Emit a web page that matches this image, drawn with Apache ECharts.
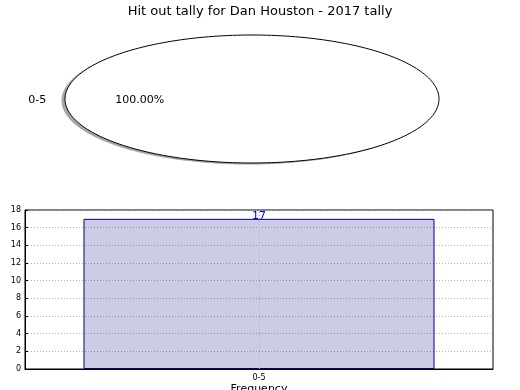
<!DOCTYPE html>
<html>
<head>
<meta charset="utf-8">
<script src="https://cdn.jsdelivr.net/npm/echarts@6/dist/echarts.min.js"></script>
<style>html,body{margin:0;padding:0;background:#fff;}#c{width:520px;height:390px;}</style>
</head>
<body>
<div id="c"></div>
<script>
const chartTitle = 'Hit out tally for Dan Houston - 2017 tally';
const categories = ['0-5'];
const values = [17];
const yMin = 0, yMax = 18, yStep = 2;
const xAxisName = 'Frequency';
const yAxisName = 'Stat Intervals';

const FONT = 'DejaVu Sans';
const total = values.reduce((a, b) => a + b, 0);
const pieCx = 252, pieCy = 99, pieRx = 187, pieRy = 64;

function arcPoints(a0, a1, rx, ry, cx, cy, full) {
  const pts = [];
  const n = 240;
  for (let i = 0; i <= n; i++) {
    const t = (a0 + (a1 - a0) * i / n) * Math.PI / 180;
    pts.push([cx + rx * Math.cos(t), cy - ry * Math.sin(t)]);
  }
  if (!full) pts.push([cx, cy]);
  return pts;
}

const gridDots = {color: '#b0b0b0', type: [1, 2], width: 1};

const chart = echarts.init(document.getElementById('c'), null, {renderer: 'canvas'});
chart.setOption({
  animation: false,
  title: {
    text: chartTitle, left: 'center', top: 0,
    textStyle: {fontFamily: FONT, fontSize: 13, fontWeight: 'normal', color: '#000'}
  },
  grid: {
    left: 25, right: 27, top: 210, bottom: 21,
    containLabel: false, outerBoundsMode: 'none',
    show: true, borderColor: '#000', borderWidth: 1, backgroundColor: 'transparent'
  },
  xAxis: {
    type: 'category', data: categories,
    name: xAxisName, nameLocation: 'middle', nameGap: 15,
    nameTextStyle: {fontFamily: FONT, fontSize: 11, color: '#000'},
    axisLine: {lineStyle: {color: '#000'}},
    axisTick: {show: false},
    axisLabel: {fontFamily: FONT, fontSize: 8, color: '#000', margin: 5},
    splitLine: {show: false},
    z: 5
  },
  yAxis: {
    type: 'value', min: yMin, max: yMax, interval: yStep,
    name: yAxisName, nameLocation: 'middle', nameGap: 17, nameRotate: 90,
    nameTextStyle: {fontFamily: FONT, fontSize: 11, color: '#000'},
    axisLine: {show: true, lineStyle: {color: '#000'}},
    axisTick: {show: true, inside: true, length: 3, lineStyle: {color: '#000'}},
    axisLabel: {fontFamily: FONT, fontSize: 8, color: '#000', margin: 4},
    splitLine: {show: true, lineStyle: gridDots}
  },
  series: [
    {
      type: 'custom',
      coordinateSystem: 'none',
      data: values.map((v, i) => [v, i]),
      renderItem: function (params, api) {
        const i = params.dataIndex;
        let start = 0;
        for (let k = 0; k < i; k++) start += values[k] / total * 360;
        const span = values[i] / total * 360;
        const end = start + span;
        const full = span >= 359.999;
        const mid = (start + end) / 2 * Math.PI / 180;
        const lx = pieCx + 1.1 * pieRx * Math.cos(mid);
        const ly = pieCy - 1.1 * pieRy * Math.sin(mid);
        const px = pieCx + 0.6 * pieRx * Math.cos(mid);
        const py = pieCy - 0.6 * pieRy * Math.sin(mid);
        const pct = (values[i] / total * 100).toFixed(2) + '%';
        return {
          type: 'group',
          children: [
            {
              type: 'polygon',
              shape: {points: arcPoints(start, end, pieRx, pieRy, pieCx - 3.5, pieCy + 1.5, full)},
              style: {fill: 'rgba(77,77,77,0.5)', stroke: null}
            },
            {
              type: 'polygon',
              shape: {points: arcPoints(start, end, pieRx, pieRy, pieCx, pieCy, full)},
              style: {fill: '#fff', stroke: '#000', lineWidth: 1}
            },
            {
              type: 'text',
              style: {
                x: lx, y: ly + 1, text: categories[i],
                fontFamily: FONT, fontSize: 11, fill: '#000',
                align: Math.cos(mid) < 0 ? 'right' : 'left', verticalAlign: 'middle'
              }
            },
            {
              type: 'text',
              style: {
                x: px, y: py + 1, text: pct,
                fontFamily: FONT, fontSize: 11, fill: '#000',
                align: 'center', verticalAlign: 'middle'
              }
            }
          ]
        };
      }
    },
    {
      type: 'bar',
      data: values,
      barWidth: '75%',
      itemStyle: {color: 'rgba(0,0,128,0.2)', borderColor: '#000080', borderWidth: 1},
      label: {
        show: true, position: 'top', distance: -3,
        fontFamily: FONT, fontSize: 11, color: '#0000ff'
      },
      markLine: {
        silent: true, symbol: 'none', label: {show: false},
        lineStyle: gridDots,
        data: categories.map(c => ({xAxis: c}))
      }
    }
  ]
});
</script>
</body>
</html>
